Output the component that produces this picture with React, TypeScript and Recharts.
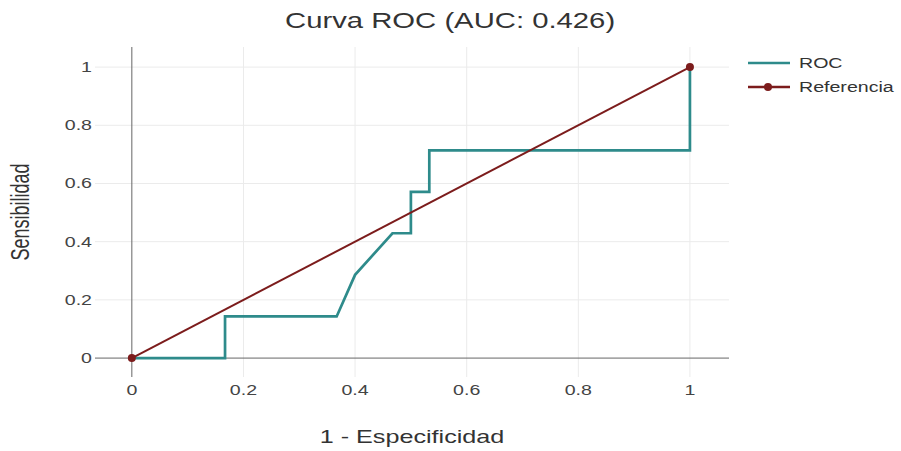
import React from "react";
import {
  CartesianGrid,
  Legend,
  Line,
  LineChart,
  ReferenceLine,
  XAxis,
  YAxis,
} from "recharts";

// ROC points (1 - especificidad, sensibilidad)
const fpr = [0, 0.167, 0.167, 0.367, 0.4, 0.467, 0.5, 0.5, 0.533, 0.533, 1, 1];
const tpr = [0, 0, 0.143, 0.143, 0.286, 0.429, 0.429, 0.571, 0.571, 0.714, 0.714, 1];

const refX = [0, 1];
const refY = [0, 1];

const xTicks = [0, 0.2, 0.4, 0.6, 0.8, 1];
const yTicks = [0, 0.2, 0.4, 0.6, 0.8, 1];
const gridValues = [0.2, 0.4, 0.6, 0.8, 1];

const title = "Curva ROC (AUC: 0.426)";
const xTitle = "1 - Especificidad";
const yTitle = "Sensibilidad";

const ROC_COLOR = "#2e8b8b";
const REF_COLOR = "#7c1c1c";
const FONT = "'Liberation Sans', Arial, sans-serif";
// the source picture has its text stretched sideways
const SX = 1.4;

const rocData = fpr.map((x, i) => ({ x, y: tpr[i] }));
const refData = refX.map((x, i) => ({ x, y: refY[i] }));

const legendItems = [
  { name: "ROC", color: ROC_COLOR, dot: false },
  { name: "Referencia", color: REF_COLOR, dot: true },
];

function XTick(props: any) {
  const { x, y, payload } = props;
  return (
    <text
      transform={`translate(${x},${y}) scale(${SX},1)`}
      textAnchor="middle"
      dy={10}
      fontSize={14}
      fill="#444"
      fontFamily={FONT}
    >
      {payload.value}
    </text>
  );
}

function YTick(props: any) {
  const { x, y, payload } = props;
  return (
    <text
      transform={`translate(${x},${y}) scale(${SX},1)`}
      textAnchor="end"
      dy={5}
      fontSize={14}
      fill="#444"
      fontFamily={FONT}
    >
      {payload.value}
    </text>
  );
}

function XTitle(props: any) {
  const vb = props.viewBox;
  const cx = vb.x + vb.width / 2;
  return (
    <text
      transform={`translate(${cx},443) scale(${SX},1)`}
      textAnchor="middle"
      fontSize={18}
      fill="#333"
      fontFamily={FONT}
    >
      {xTitle}
    </text>
  );
}

function YTitle(props: any) {
  const vb = props.viewBox;
  const cy = vb.y + vb.height / 2;
  return (
    <text
      transform={`translate(29,${cy}) scale(${SX},1) rotate(-90)`}
      textAnchor="middle"
      fontSize={18}
      fill="#333"
      fontFamily={FONT}
    >
      {yTitle}
    </text>
  );
}

function LegendBox() {
  return (
    <svg width={150} height={50} style={{ overflow: "visible" }}>
      {legendItems.map((it, i) => {
        const cy = 12 + i * 24;
        return (
          <g key={it.name}>
            <line x1={0} y1={cy} x2={42} y2={cy} stroke={it.color} strokeWidth={2.5} />
            {it.dot && <circle cx={20} cy={cy} r={4} fill={it.color} />}
            <text
              transform={`translate(51,${cy + 5}) scale(${SX},1)`}
              fontSize={14}
              fill="#333"
              fontFamily={FONT}
            >
              {it.name}
            </text>
          </g>
        );
      })}
    </svg>
  );
}

export default function App() {
  return (
    <div style={{ position: "absolute", left: 0, top: 0, width: 901, height: 451, background: "#fff" }}>
      <div
        style={{
          position: "absolute",
          top: 8,
          left: 0,
          width: 901,
          textAlign: "center",
          fontFamily: FONT,
          fontSize: 22,
          color: "#333",
          zIndex: 1,
        }}
      >
        <span style={{ display: "inline-block", transform: "scaleX(1.33)" }}>{title}</span>
      </div>
      <LineChart
        width={901}
        height={451}
        margin={{ top: 47, right: 172, bottom: 0, left: 0 }}
        style={{ fontFamily: FONT }}
      >
        <CartesianGrid
          stroke="#ebebeb"
          strokeWidth={1}
          horizontalValues={gridValues}
          verticalValues={gridValues}
        />
        <XAxis
          dataKey="x"
          type="number"
          domain={[-0.066, 1.07]}
          ticks={xTicks}
          allowDataOverflow
          axisLine={false}
          tickLine={false}
          tickSize={0}
          height={74}
          tickMargin={8}
          tick={<XTick />}
          label={<XTitle />}
        />
        <YAxis
          type="number"
          domain={[-0.065, 1.069]}
          ticks={yTicks}
          allowDataOverflow
          axisLine={false}
          tickLine={false}
          tickSize={0}
          width={95}
          tickMargin={3}
          tick={<YTick />}
          label={<YTitle />}
        />
        <ReferenceLine x={0} stroke="#666" strokeWidth={1} />
        <ReferenceLine y={0} stroke="#666" strokeWidth={1} />
        <Line
          data={rocData}
          dataKey="y"
          name="ROC"
          type="linear"
          stroke={ROC_COLOR}
          strokeWidth={2.7}
          dot={false}
          activeDot={false}
          isAnimationActive={false}
        />
        <Line
          data={refData}
          dataKey="y"
          name="Referencia"
          type="linear"
          stroke={REF_COLOR}
          strokeWidth={2}
          dot={{ r: 4, fill: REF_COLOR, stroke: REF_COLOR, strokeWidth: 0 }}
          activeDot={false}
          isAnimationActive={false}
        />
        <Legend
          layout="vertical"
          align="center"
          verticalAlign="middle"
          content={() => <LegendBox />}
          wrapperStyle={{ position: "absolute", left: 748, top: 51, width: 150 }}
        />
      </LineChart>
    </div>
  );
}
